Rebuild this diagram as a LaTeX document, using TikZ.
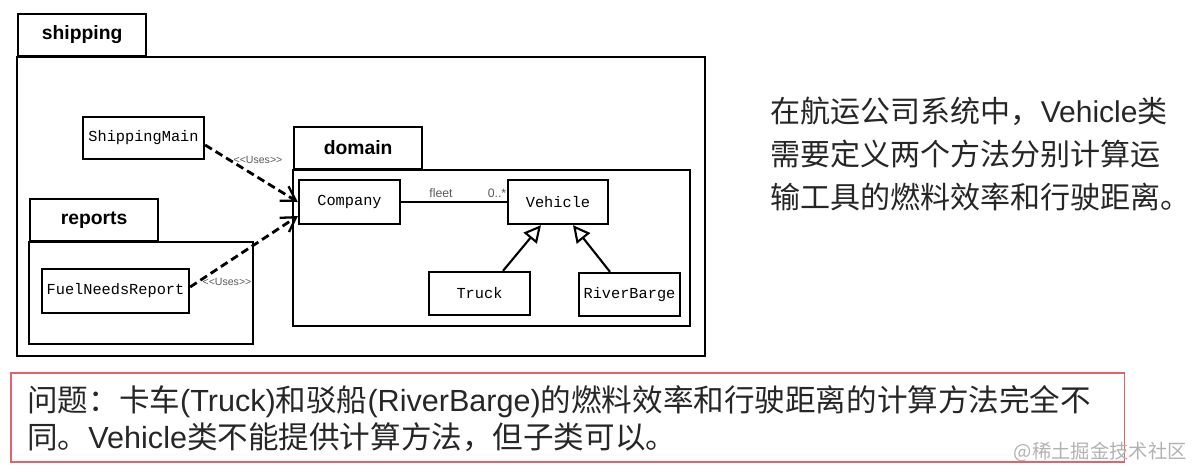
\documentclass[tikz,border=0pt]{standalone}
\usepackage{fontspec}
\setmainfont{Liberation Sans}
\setmonofont{Liberation Mono}
\newfontfamily\cjk{Noto Sans CJK SC}
\usetikzlibrary{arrows.meta,positioning,calc}
\definecolor{boxred}{RGB}{232,96,104}

\begin{document}
\begin{tikzpicture}[x=0.02cm,y=-0.02cm,
    cls/.style={draw,line width=1.3pt,inner sep=0pt,font=\ttfamily\fontsize{8.7}{10}\selectfont},
    tab/.style={draw,line width=1.3pt,anchor=south west,inner sep=0pt,minimum width=2.56cm,minimum height=0.84cm,font=\bfseries\fontsize{11}{13}\selectfont},
    pkg/.style={draw,line width=1.3pt},
    uses/.style={line width=1.6pt,dash pattern=on 4.5pt off 2.5pt,-{Straight Barb[length=2.8mm,width=3.4mm,line width=1.3pt]}},
    gen/.style={line width=1.2pt,-{Triangle[open,length=3.4mm,width=3.4mm,fill=white]}},
    small/.style={inner sep=0.5pt,text=gray!70!black,font=\fontsize{6}{7}\selectfont}]
    \useasboundingbox (0,0) rectangle (1194,468);
    % packages
    \foreach \n/\x/\y/\r/\b in {shipping/17/57/705/356,reports/29/242/253/344,domain/293/170/690/326} {
        \node[tab] (\n Tab) at (\x,\y) {\n};
        \draw[pkg] (\x,\y) rectangle (\r,\b);
    }
    % classes
    \node[cls,minimum width=2.42cm,minimum height=0.84cm] (shippingMain) at (143.5,138) {ShippingMain};
    \node[cls,minimum width=2.94cm,minimum height=0.88cm] (fuelNeedsReport) at (115.5,291) {FuelNeedsReport};
    \node[cls,minimum width=2.02cm,minimum height=0.88cm] (company) at (349.5,202) {Company};
    \node[cls,minimum width=2.0cm,minimum height=0.88cm] (vehicle) at (558,202) {Vehicle};
    \node[cls,minimum width=2.02cm,minimum height=0.86cm] (truck) at (479.5,293.5) {Truck};
    \node[cls,minimum width=2.02cm,minimum height=0.86cm] (riverBarge) at (629.5,294.5) {RiverBarge};
    % dependencies
    \draw[uses] ([yshift=-0.14cm]shippingMain.east) -- (company.west);
    \draw[uses] ([yshift=0.08cm]fuelNeedsReport.east) -- ([yshift=-0.28cm]company.west);
    \node[small] (uses1) at (258,160) {<\kern0pt<Uses>\kern0pt>};
    \node[small] (uses2) at (227,282) {<\kern0pt<Uses>\kern0pt>};
    % association and generalization
    \draw[line width=1.2pt] (company) -- (vehicle);
    \node[small,font=\fontsize{7}{8}\selectfont] (fleet) at (441,193) {fleet};
    \node[small,font=\fontsize{7}{8}\selectfont] (mult) at (497,193) {0..*};
    \draw[gen] ([xshift=0.47cm]truck.north) -- ([xshift=-0.34cm]vehicle.south);
    \draw[gen] ([xshift=-0.39cm]riverBarge.north) -- ([xshift=0.3cm]vehicle.south);
    % texts
    \node[anchor=north west,align=left,inner sep=0pt,text=black!85,font=\fontsize{17.1}{24.4}\selectfont] (intro) at (770,97)
        {{\cjk 在航运公司系统中，}Vehicle{\cjk 类}\\{\cjk 需要定义两个方法分别计算运}\\{\cjk 输工具的燃料效率和行驶距离。}};
    \node[draw=boxred,line width=0.9pt,anchor=north west,inner sep=0pt,minimum width=22.28cm,minimum height=1.78cm] (problemBox) at (10,372) {};
    \node[anchor=west,align=left,inner sep=0pt,text=black!85,font=\fontsize{17.4}{21.2}\selectfont] (problem) at ([xshift=0.34cm,yshift=-0.03cm]problemBox.west)
        {{\cjk 问题：卡车}(Truck){\cjk 和驳船}(RiverBarge){\cjk 的燃料效率和行驶距离的计算方法完全不}\\{\cjk 同。}Vehicle{\cjk 类不能提供计算方法，但子类可以。}};
    \node[anchor=east,inner sep=0pt,text=gray!60,font=\cjk\fontsize{11}{12}\selectfont] (mark) at (1187,452) {@稀土掘金技术社区};
\end{tikzpicture}
\end{document}
